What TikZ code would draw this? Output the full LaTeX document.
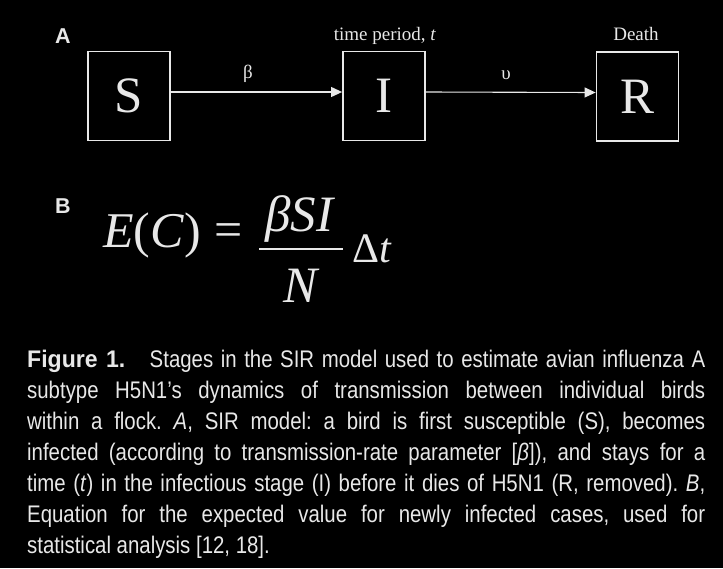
\documentclass[tikz,border=0pt]{standalone}
\usepackage{fontspec}
\setmainfont{Liberation Serif}
\newfontfamily\capfont[FakeStretch=0.85]{Liberation Sans}
\newfontfamily\figfont[FakeStretch=0.96]{Liberation Sans}
\newfontfamily\lblfont{Liberation Sans}
\usetikzlibrary{arrows.meta}
\definecolor{fg}{HTML}{E8E8E8}
\tikzset{
  stage/.style={draw=fg, line width=1.8pt, minimum width=82pt, minimum height=89pt, inner sep=0pt, text=fg, font=\fontsize{51}{51}\selectfont},
  flow/.style={draw=fg, line width=1.1pt, -{Triangle[length=11pt,width=10pt]}},
  small/.style={text=fg, inner sep=0pt, font=\fontsize{19}{19}\selectfont},
  panel/.style={text=fg, inner sep=0pt, font=\lblfont\bfseries\fontsize{21.5}{21.5}\selectfont},
  eq/.style={text=fg, inner sep=0pt},
}
\begin{document}
\begin{tikzpicture}[x=1pt,y=-1pt]
\fill[black] (0,0) rectangle (723,568);
\useasboundingbox (0,0) rectangle (723,568);
% panel labels
\node[panel, anchor=base west] (pa) at (55,43) {A};
\node[panel, anchor=base west] (pb) at (55,213) {B};
% boxes
\node[stage] (S) at (129,96) {S};
\node[stage] (I) at (384,96) {I};
\node[stage] (R) at (637.5,96.5) {R};
\draw[flow] ([yshift=4pt]S.east) -- ([yshift=4pt]I.west);
\draw[flow] ([yshift=4pt]I.east) -- ([yshift=4pt]R.west);
\node[small] (beta) at (248,74) {β};
\node[small] (ups) at (506,75) {υ};
\node[small, anchor=base] (tp) at (385,40) {time period, \textit{t}};
\node[small, anchor=base] (death) at (636,40) {Death};
% equation
\node[eq, anchor=base west, font=\fontsize{50}{50}\selectfont] (lhs) at (103,247) {\textit{E}(\textit{C})};
\node[eq, anchor=base, font=\fontsize{50}{50}\selectfont] (eqs) at (229,246) {=};
\node[eq, anchor=base, font=\fontsize{51}{51}\selectfont] (num) at (300.5,231) {\textit{βSI}};
\node[eq, anchor=base, font=\fontsize{51}{51}\selectfont] (den) at (302,302) {\textit{N}};
\draw[fg, line width=2pt] (259,249) -- (343,249);
\node[eq, anchor=base west, font=\fontsize{42}{42}\selectfont] (dt) at (352,262) {Δ\textit{t}};
% caption
\node[anchor=north west, inner sep=0pt, text width=678pt, align=justify, text=fg,
  font=\capfont\fontsize{24}{31}\selectfont] (cap) at (27,350) {\frenchspacing\hyphenpenalty=10000\exhyphenpenalty=10000\tolerance=10000%
{\figfont\bfseries Figure 1.}\hspace{0.7em} Stages in the SIR model used to estimate avian influenza A\linebreak
subtype H5N1’s dynamics of transmission between individual birds\linebreak
within a flock. \textit{A}, SIR model: a bird is first susceptible (S), becomes\linebreak
infected (according to transmission-rate parameter [\textit{β}]), and stays for a\linebreak
time (\textit{t}) in the infectious stage (I) before it dies of H5N1 (R, removed). \textit{B},\linebreak
Equation for the expected value for newly infected cases, used for\linebreak
statistical analysis [12, 18].};
\end{tikzpicture}
\end{document}
